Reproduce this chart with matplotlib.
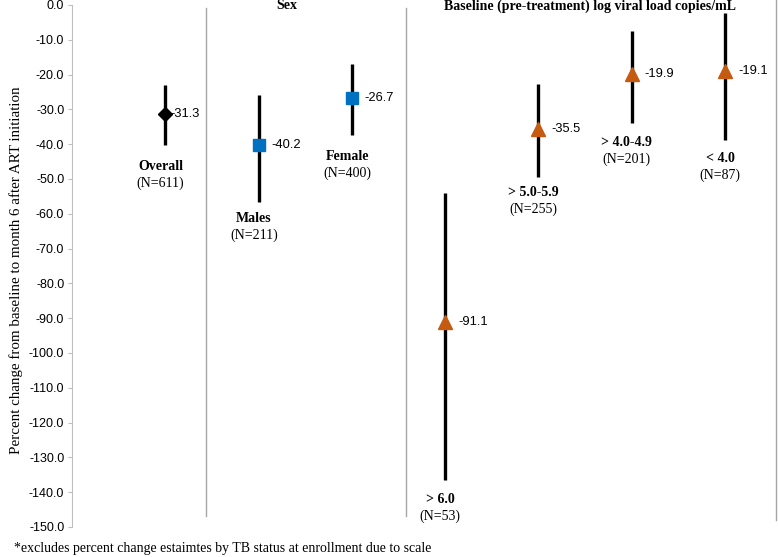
import numpy as np
import matplotlib
matplotlib.use('Agg')
import matplotlib.pyplot as plt

# values
names = ['Overall', 'Males', 'Female', '> 6.0', '> 5.0-5.9', '> 4.0-4.9', '< 4.0']
counts = ['(N=611)', '(N=211)', '(N=400)', '(N=53)', '(N=255)', '(N=201)', '(N=87)']
est = [-31.3, -40.2, -26.7, -91.1, -35.5, -19.9, -19.1]
lower = [-40.2, -56.6, -37.4, -136.5, -49.4, -33.9, -38.8]
upper = [-23.0, -25.9, -17.0, -54.0, -22.7, -7.5, -2.2]
# where the group label sits (y of the bold name)
label_y = [-46.5, -61.5, -43.5, -142.0, -54.0, -39.5, -44.0]

serif = 'Liberation Serif'
sans = 'Liberation Sans'

fig = plt.figure(figsize=(7.78, 5.57), dpi=100)
ax = fig.add_axes([0.0925, 0.0539, 0.9075, 0.9372])

x = np.arange(1, 8)
markers = ['D', 's', 's', '^', '^', '^', '^']
colors = ['black', '#0070C0', '#0070C0', '#C55A11', '#C55A11', '#C55A11', '#C55A11']
sizes = [7, 9, 9, 10, 10, 10, 10]

for i in range(7):
    ax.plot([x[i], x[i]], [lower[i], upper[i]], color='black', lw=2.4, solid_capstyle='butt', zorder=2)
    ax.plot(x[i], est[i], marker=markers[i], color=colors[i], ms=sizes[i], zorder=3, linestyle='none')
    off = 0.06 if i == 0 else 0.14
    ax.text(x[i] + off, est[i], '%.1f' % est[i], fontsize=9.3, family=sans, va='center', ha='left')
    ax.text(x[i] - 0.05, label_y[i], names[i], fontsize=10, family=serif, weight='bold', ha='center', va='center')
    ax.text(x[i] - 0.05, label_y[i] - 4.8, counts[i], fontsize=10, family=serif, ha='center', va='center')

# group separators
for sx, top, bot in [(1.44, -1.0, -146.8), (3.58, -1.0, -146.8), (7.55, 1.5, -148.0)]:
    ax.plot([sx, sx], [top, bot], color='#A6A6A6', lw=1.0, clip_on=False)

ax.text(2.30, -0.2, 'Sex', fontsize=10, family=serif, weight='bold', ha='center', va='center')
ax.text(5.55, -0.4, 'Baseline (pre-treatment) log viral load copies/mL', fontsize=10,
        family=serif, weight='bold', ha='center', va='center')

ax.set_xlim(0, 7.57)
ax.set_ylim(-150, 0)
ax.set_yticks(np.arange(-150, 1, 10))
ax.set_yticklabels(['%.1f' % v for v in np.arange(-150, 1, 10)], family=sans, fontsize=9)
ax.set_xticks([])
for s in ['top', 'right', 'bottom']:
    ax.spines[s].set_visible(False)
ax.spines['left'].set_color('#BFBFBF')
ax.tick_params(axis='y', color='#BFBFBF', length=3, pad=2.5)
ax.set_ylabel('Percent change from baseline to month 6 after ART initiation', family=serif, fontsize=10.8)
ax.yaxis.set_label_coords(-0.07, 0.492)

fig.text(0.018, 0.016, '*excludes percent change estaimtes by TB status at enrollment due to scale',
         family=serif, fontsize=10, ha='left', va='center')

fig.savefig('out.png', dpi=100)
